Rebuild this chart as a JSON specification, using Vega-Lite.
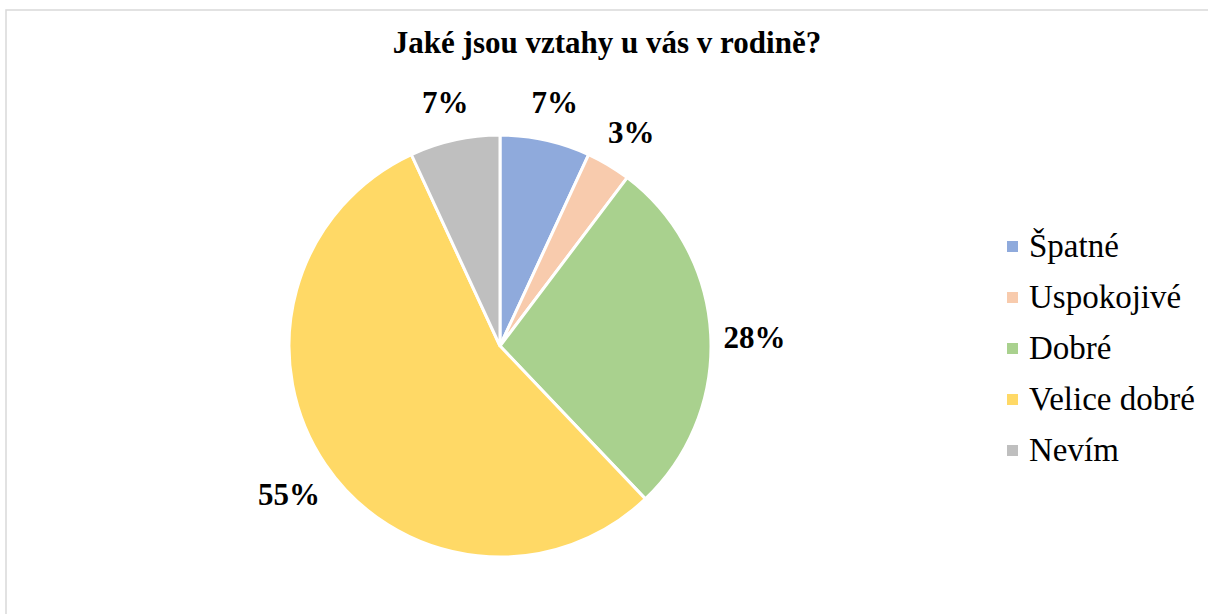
{
  "$schema": "https://vega.github.io/schema/vega-lite/v6.json",
  "width": 1212,
  "height": 612,
  "autosize": {"type": "none"},
  "padding": {"top": 10, "left": 6, "right": -10, "bottom": -8},
  "background": "white",
  "view": {"stroke": "#d9d9d9", "strokeWidth": 1.5, "fill": "white"},
  "title": {
    "text": "Jaké jsou vztahy u vás v rodině?",
    "font": "Liberation Serif",
    "fontSize": 31,
    "fontWeight": "bold",
    "color": "#000000",
    "anchor": "middle",
    "offset": -50,
    "dx": -5
  },
  "data": {
    "values": [
      {"answer": "Špatné", "share": 0.069, "i": 1},
      {"answer": "Uspokojivé", "share": 0.034, "i": 2},
      {"answer": "Dobré", "share": 0.276, "i": 3},
      {"answer": "Velice dobré", "share": 0.552, "i": 4},
      {"answer": "Nevím", "share": 0.069, "i": 5}
    ]
  },
  "encoding": {
    "theta": {"field": "share", "type": "quantitative", "stack": true},
    "order": {"field": "i", "type": "quantitative"}
  },
  "layer": [
    {
      "mark": {"type": "arc", "radius": 211, "stroke": "white", "strokeWidth": 3, "xOffset": -112, "yOffset": 30},
      "encoding": {
        "color": {
          "field": "answer",
          "type": "nominal",
          "sort": ["Špatné", "Uspokojivé", "Dobré", "Velice dobré", "Nevím"],
          "scale": {
            "domain": ["Špatné", "Uspokojivé", "Dobré", "Velice dobré", "Nevím"],
            "range": ["#8FAADC", "#F8CBAD", "#A9D18E", "#FFD966", "#BFBFBF"]
          },
          "legend": {
            "title": null,
            "orient": "none",
            "legendX": 990,
            "legendY": 220,
            "padding": 0,
            "symbolType": "square",
            "symbolSize": 121,
            "symbolStrokeWidth": 0,
            "labelFont": "Liberation Serif",
            "labelFontSize": 33,
            "labelColor": "#000000",
            "labelOffset": 0,
            "rowPadding": 17,
            "labelLimit": 300
          }
        }
      }
    },
    {
      "mark": {
        "type": "text",
        "radius": 255,
        "xOffset": -112,
        "yOffset": 37,
        "font": "Liberation Serif",
        "fontSize": 31,
        "fontWeight": "bold",
        "color": "#000000",
        "align": "center",
        "baseline": "middle"
      },
      "encoding": {
        "text": {"field": "share", "type": "quantitative", "format": ".0%"}
      }
    }
  ]
}
